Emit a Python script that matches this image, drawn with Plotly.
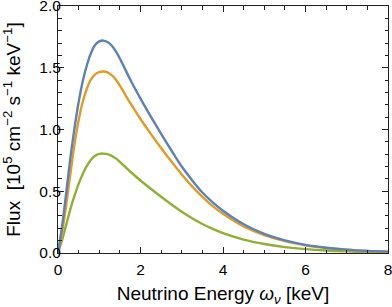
import plotly.graph_objects as go

energy = [0, 0.1, 0.2, 0.3, 0.4, 0.5, 0.6, 0.7, 0.8, 0.9, 1.0, 1.1, 1.2, 1.3, 1.4, 1.5,
          1.75, 2.0, 2.25, 2.5, 2.75, 3.0, 3.25, 3.5, 3.75, 4.0, 4.5, 5.0, 5.5, 6.0,
          6.5, 7.0, 7.5, 8.0]
flux_blue = [0, 0.22, 0.49, 0.77, 1.01, 1.22, 1.39, 1.52, 1.62, 1.685, 1.713, 1.72, 1.708, 1.68, 1.635, 1.575,
             1.405, 1.25, 1.105, 0.965, 0.83, 0.70, 0.59, 0.49, 0.41, 0.342, 0.233, 0.155, 0.102, 0.066,
             0.043, 0.027, 0.017, 0.011]
flux_orange = [0, 0.17, 0.39, 0.64, 0.88, 1.075, 1.225, 1.33, 1.405, 1.447, 1.465, 1.47, 1.462, 1.44, 1.405, 1.355,
               1.215, 1.085, 0.965, 0.85, 0.74, 0.635, 0.54, 0.455, 0.38, 0.317, 0.215, 0.145, 0.096, 0.062,
               0.040, 0.026, 0.016, 0.010]
flux_green = [0, 0.105, 0.23, 0.355, 0.465, 0.56, 0.64, 0.705, 0.755, 0.787, 0.802, 0.805, 0.80, 0.787, 0.766, 0.738,
              0.66, 0.587, 0.52, 0.455, 0.393, 0.335, 0.282, 0.235, 0.195, 0.161, 0.109, 0.073, 0.048, 0.031,
              0.020, 0.013, 0.008, 0.005]

x_ticks = [0, 2, 4, 6, 8]
y_ticks = [0.0, 0.5, 1.0, 1.5, 2.0]

series = [
    (flux_blue, "#5E81B5"),
    (flux_orange, "#E19C24"),
    (flux_green, "#8FB032"),
]

fig = go.Figure()
for ys, col in series[::-1]:
    fig.add_trace(go.Scatter(x=energy, y=ys, mode="lines",
                             line=dict(color=col, width=2.4, shape="spline", smoothing=0.8),
                             showlegend=False, hoverinfo="skip"))
# invisible trace to activate the mirrored (top/right) axes
fig.add_trace(go.Scatter(x=[x_ticks[0]], y=[y_ticks[0]], xaxis="x2", yaxis="y2",
                         mode="markers", marker=dict(opacity=0), showlegend=False, hoverinfo="skip"))

font_fam = "Liberation Sans, Arial, sans-serif"
frame = "#222222"
fig.update_layout(
    width=392, height=307,
    margin=dict(l=58, r=4, t=6, b=54),
    paper_bgcolor="white", plot_bgcolor="white",
    font=dict(family=font_fam, size=15, color="black"),
    xaxis=dict(
        range=[0, 8], tickvals=x_ticks, ticktext=[str(v) for v in x_ticks],
        ticks="inside", ticklen=6, tickwidth=1, tickcolor=frame,
        showline=True, linecolor=frame, linewidth=1,
        showgrid=False, zeroline=False, automargin=False, ticklabeloverflow="allow",
        minor=dict(ticks="inside", dtick=0.5, ticklen=3.5, tickwidth=1, tickcolor=frame, showgrid=False),
        tickfont=dict(size=15.5), ticklabelstandoff=2,
        title=dict(text="Neutrino Energy <i>ω</i><sub><i>ν</i></sub> [keV]", font=dict(size=19), standoff=12),
    ),
    yaxis=dict(
        range=[0, 2], tickvals=y_ticks, ticktext=["%.1f" % v for v in y_ticks],
        ticks="inside", ticklen=6, tickwidth=1, tickcolor=frame,
        showline=True, linecolor=frame, linewidth=1,
        showgrid=False, zeroline=False, automargin=False, ticklabeloverflow="allow",
        minor=dict(ticks="inside", dtick=0.1, ticklen=3.5, tickwidth=1, tickcolor=frame, showgrid=False),
        tickfont=dict(size=15.5), ticklabelstandoff=-7,
        title=dict(text="Flux  [10<sup>5</sup> cm<sup>−2</sup> s<sup>−1</sup> keV<sup>−1</sup>]",
                   font=dict(size=19), standoff=14),
    ),
    xaxis2=dict(
        overlaying="x", side="top", range=[0, 8], tickvals=x_ticks, showticklabels=False,
        ticks="inside", ticklen=6, tickwidth=1, tickcolor=frame,
        showline=True, linecolor=frame, linewidth=1,
        showgrid=False, zeroline=False, automargin=False,
        minor=dict(ticks="inside", dtick=0.5, ticklen=3.5, tickwidth=1, tickcolor=frame, showgrid=False),
    ),
    yaxis2=dict(
        overlaying="y", side="right", range=[0, 2], tickvals=y_ticks, showticklabels=False,
        ticks="inside", ticklen=6, tickwidth=1, tickcolor=frame,
        showline=True, linecolor=frame, linewidth=1,
        showgrid=False, zeroline=False, automargin=False,
        minor=dict(ticks="inside", dtick=0.1, ticklen=3.5, tickwidth=1, tickcolor=frame, showgrid=False),
    ),
)

fig.write_html("out.html", config={"displayModeBar": False},
               post_script="document.body.style.margin='0';document.body.style.overflow='hidden';")
